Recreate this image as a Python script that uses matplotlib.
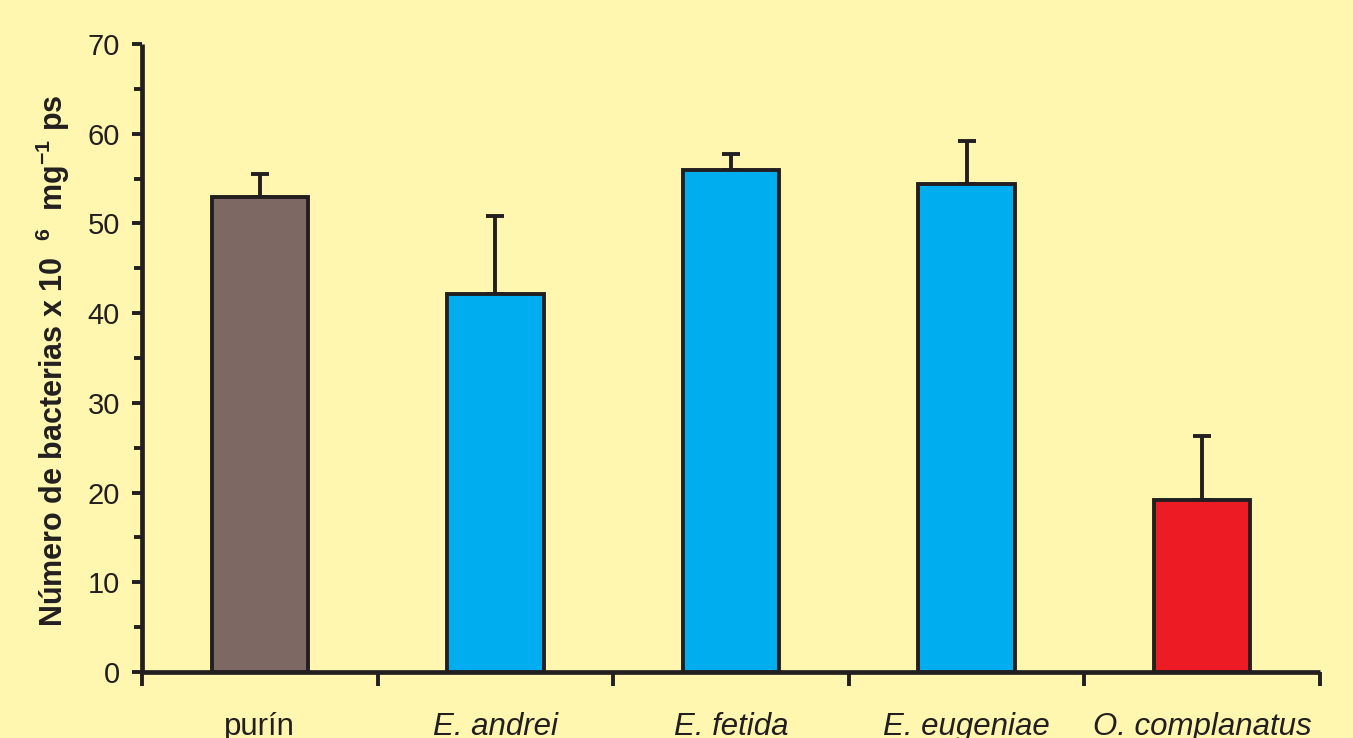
import matplotlib
matplotlib.use("Agg")
import matplotlib.pyplot as plt
import numpy as np
from matplotlib.ticker import MultipleLocator

categories = ["purín", "E. andrei", "E. fetida", "E. eugeniae", "O. complanatus"]
italic = [False, True, True, True, True]
values = [53.0, 42.1, 55.9, 54.4, 19.2]
errors = [2.5, 8.7, 1.8, 4.8, 7.1]
colors = ["#7E6863", "#00AEEF", "#00AEEF", "#00AEEF", "#ED1C24"]

bg = "#FFF7B0"
ink = "#231F20"

plt.rcParams["font.family"] = ["Liberation Sans", "DejaVu Sans"]
plt.rcParams["mathtext.default"] = "regular"

W, H = 1353, 738
fig = plt.figure(figsize=(W / 100, H / 100), dpi=100, facecolor=bg)
ax = fig.add_axes([142 / W, 1 - 672 / H, (1320 - 142) / W, (672 - 44) / H])
ax.set_facecolor(bg)

x = np.arange(len(categories))
ax.bar(x, values, width=0.41, color=colors, edgecolor=ink, linewidth=2.8, zorder=3)
ax.errorbar(x, values, yerr=[np.zeros(len(errors)), errors], fmt="none",
            ecolor=ink, elinewidth=2.8, capsize=6.5, capthick=2.8, zorder=2)

ax.set_xlim(-0.5, len(categories) - 0.5)
ax.set_ylim(0, 70)
ax.yaxis.set_major_locator(MultipleLocator(10))
ax.yaxis.set_minor_locator(MultipleLocator(5))
ax.set_xticks(np.arange(-0.5, len(categories), 1.0))
ax.set_xticklabels([])
ax.tick_params(axis="x", which="major", direction="out", length=10, width=2.8, color=ink)
ax.tick_params(axis="y", which="major", direction="out", length=7, width=2.8, color=ink,
               labelsize=21, labelcolor=ink, pad=9)
ax.tick_params(axis="y", which="minor", direction="out", length=6, width=2.8, color=ink)

for s in ["top", "right"]:
    ax.spines[s].set_visible(False)
for s in ["left", "bottom"]:
    ax.spines[s].set_linewidth(3.4)
    ax.spines[s].set_color(ink)
    ax.spines[s].set_capstyle("butt")

for xi, lab, it in zip(x, categories, italic):
    ax.text(xi, -7.0, lab, ha="center", va="baseline", fontsize=22.5,
            style="italic" if it else "normal", color=ink,
            transform=ax.transData, clip_on=False)

fig.text(63 / W, 1 - 361 / H, r"Número de bacterias x 10  $^{6}$  mg$^{-1}$ ps",
         fontsize=22, fontweight="bold", color=ink, rotation=90,
         rotation_mode="anchor", ha="center", va="baseline")

fig.savefig("out.png", dpi=100, facecolor=bg)
